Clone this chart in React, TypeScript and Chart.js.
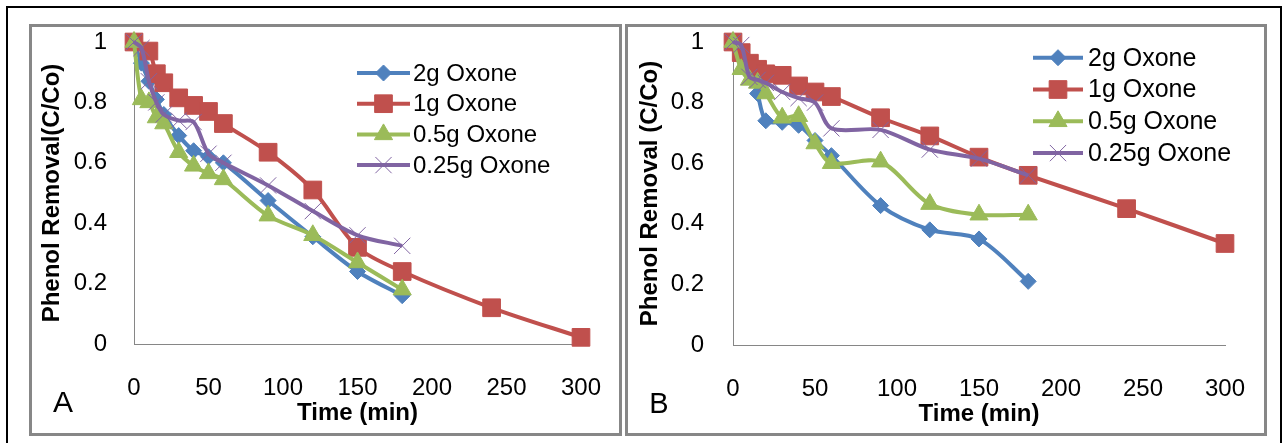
import React, { useEffect, useRef } from 'react';
import { Chart, registerables } from 'chart.js';
import { drawPoint } from 'chart.js/helpers';

Chart.register(...registerables);

// ---------- data ----------
const TIME_STD = [0, 5, 10, 15, 20, 30, 40, 50, 60, 90, 120, 150, 180];
const TIME_1G_A = [0, 10, 15, 20, 30, 40, 50, 60, 90, 120, 150, 180, 240, 300];
const TIME_1G_B = [0, 5, 10, 15, 20, 30, 40, 50, 60, 90, 120, 150, 180, 240, 300];

const A_2G = [1.0, 0.93, 0.87, 0.81, 0.76, 0.69, 0.64, 0.62, 0.6, 0.475, 0.355, 0.24, 0.16];
const A_1G = [1.0, 0.97, 0.895, 0.865, 0.815, 0.79, 0.77, 0.73, 0.635, 0.51, 0.32, 0.24, 0.12, 0.022];
const A_05G = [1.0, 0.81, 0.8, 0.75, 0.73, 0.635, 0.59, 0.565, 0.545, 0.425, 0.36, 0.27, 0.18];
const A_025G = [1.0, 0.98, 0.87, 0.8, 0.76, 0.74, 0.735, 0.63, 0.6, 0.525, 0.44, 0.36, 0.325];

const B_2G = [1.0, 0.97, 0.93, 0.83, 0.74, 0.735, 0.725, 0.675, 0.625, 0.46, 0.38, 0.35, 0.21];
const B_1G = [1.0, 0.965, 0.93, 0.91, 0.895, 0.89, 0.855, 0.835, 0.82, 0.75, 0.69, 0.62, 0.56, 0.45, 0.335];
const B_05G = [1.0, 0.91, 0.875, 0.865, 0.83, 0.75, 0.755, 0.665, 0.6, 0.605, 0.465, 0.43, 0.43];
const B_025G = [1.0, 0.99, 0.885, 0.875, 0.865, 0.835, 0.815, 0.8, 0.715, 0.71, 0.645, 0.615, 0.56];

const SERIES_LABELS = ['2g Oxone', '1g Oxone', '0.5g Oxone', '0.25g Oxone'];
const X_TICKS = [0, 50, 100, 150, 200, 250, 300];
const X_TICK_LABELS = ['0', '50', '100', '150', '200', '250', '300'];
const Y_TICKS = [0, 0.2, 0.4, 0.6, 0.8, 1];
const Y_TICK_LABELS = ['0', '0.2', '0.4', '0.6', '0.8', '1'];

// ---------- styles ----------
const FONT = '"Liberation Sans", Arial, sans-serif';
const COLORS = ['#4F81BD', '#C0504D', '#9BBB59', '#8064A2'];
const POINT_STYLES = ['rectRot', 'rect', 'triangle', 'crossRot'];
const POINT_RADII = [8, 12.5, 10.5, 11.5];
const POINT_BORDERS = [1, 1, 1, 1];

const pts = (times: number[], vals: number[]) => times.map((t, i) => ({ x: t, y: vals[i] }));

type PanelCfg = {
  letter: string;
  yTitle: string;
  series: { x: number; y: number }[][];
  left: number; top: number; w: number; h: number;
  yWidth: number; xHeight: number; padTop: number; padRight: number;
  yTickPad: number; xTickPad: number; yTitlePad: number; xTitlePad: number;
  legX1: number; legX2: number; legText: number; legY0: number; legStep: number; legFont: number;
  letterX: number; letterY: number; letterSize: number;
  frame: { left: number; top: number; width: number; height: number };
};

const PANELS: PanelCfg[] = [
  {
    letter: 'A',
    yTitle: 'Phenol Removal(C/Co)',
    series: [pts(TIME_STD, A_2G), pts(TIME_1G_A, A_1G), pts(TIME_STD, A_05G), pts(TIME_STD, A_025G)],
    left: 32, top: 27, w: 587, h: 406,
    yWidth: 102, xHeight: 89, padTop: 15, padRight: 38,
    yTickPad: 27, xTickPad: 30, yTitlePad: 6, xTitlePad: 5,
    legX1: 325, legX2: 378, legText: 381, legY0: 46, legStep: 30.7, legFont: 24,
    letterX: 63, letterY: 402, letterSize: 30,
    frame: { left: 29, top: 24, width: 593, height: 412 },
  },
  {
    letter: 'B',
    yTitle: 'Phenol Removal (C/Co)',
    series: [pts(TIME_STD, B_2G), pts(TIME_1G_B, B_1G), pts(TIME_STD, B_05G), pts(TIME_STD, B_025G)],
    left: 628, top: 27, w: 636, h: 406,
    yWidth: 105, xHeight: 88, padTop: 15, padRight: 39,
    yTickPad: 29, xTickPad: 30, yTitlePad: 8, xTitlePad: 4,
    legX1: 405, legX2: 455, legText: 460, legY0: 30.7, legStep: 31.8, legFont: 25,
    letterX: 659, letterY: 403, letterSize: 29,
    frame: { left: 625, top: 24, width: 642, height: 412 },
  },
];

function ChartPanel({ cfg }: { cfg: PanelCfg }) {
  const ref = useRef<HTMLCanvasElement>(null);

  useEffect(() => {
    const legendPlugin = {
      id: 'insideLegend',
      afterDraw(chart: any) {
        const ctx = chart.ctx;
        ctx.save();
        SERIES_LABELS.forEach((label, i) => {
          const y = cfg.legY0 + i * cfg.legStep;
          ctx.strokeStyle = COLORS[i];
          ctx.lineWidth = 4;
          ctx.beginPath();
          ctx.moveTo(cfg.legX1, y);
          ctx.lineTo(cfg.legX2, y);
          ctx.stroke();
          ctx.fillStyle = COLORS[i];
          ctx.strokeStyle = COLORS[i];
          ctx.lineWidth = POINT_BORDERS[i];
          drawPoint(ctx, {
            pointStyle: POINT_STYLES[i] as any,
            radius: POINT_RADII[i],
            rotation: 0,
            borderWidth: POINT_BORDERS[i],
          } as any, (cfg.legX1 + cfg.legX2) / 2, y);
          ctx.fillStyle = '#000';
          ctx.font = `${cfg.legFont}px ${FONT}`;
          ctx.textBaseline = 'middle';
          ctx.textAlign = 'left';
          ctx.fillText(label, cfg.legText, y + 1);
        });
        ctx.restore();
      },
    };

    const chart = new Chart(ref.current as HTMLCanvasElement, {
      type: 'line',
      data: {
        datasets: cfg.series.map((data, i) => ({
          label: SERIES_LABELS[i],
          data,
          borderColor: COLORS[i],
          backgroundColor: COLORS[i],
          borderWidth: 4,
          pointStyle: POINT_STYLES[i] as any,
          pointRadius: POINT_RADII[i],
          pointBorderWidth: POINT_BORDERS[i],
          pointBackgroundColor: COLORS[i],
          pointBorderColor: COLORS[i],
          tension: 0.3,
          fill: false,
          clip: false as any,
          order: 4 - i,
        })),
      },
      options: {
        responsive: false,
        animation: false,
        events: [],
        layout: { padding: { top: cfg.padTop, right: cfg.padRight, left: 0, bottom: 0 } },
        plugins: { legend: { display: false }, tooltip: { enabled: false } },
        scales: {
          x: {
            type: 'linear',
            min: 0,
            max: 300,
            afterBuildTicks: (scale: any) => {
              scale.ticks = X_TICKS.map((v) => ({ value: v }));
            },
            afterFit: (scale: any) => {
              scale.height = cfg.xHeight;
              scale.paddingLeft = 0;
              scale.paddingRight = 0;
              scale.paddingTop = 0;
              scale.paddingBottom = 0;
            },
            ticks: {
              padding: cfg.xTickPad,
              color: '#000',
              font: { family: FONT, size: 24 },
              maxRotation: 0,
              callback: (v: any) => X_TICK_LABELS[X_TICKS.indexOf(Math.round(Number(v)))] ?? '',
            },
            grid: { display: false, drawTicks: false },
            border: { display: true, color: '#868686', width: 1 },
            title: {
              display: true,
              text: 'Time (min)',
              color: '#000',
              font: { family: FONT, size: 24, weight: 'bold' },
              padding: { top: 0, bottom: cfg.xTitlePad },
            },
          },
          y: {
            type: 'linear',
            min: 0,
            max: 1,
            afterBuildTicks: (scale: any) => {
              scale.ticks = Y_TICKS.map((v) => ({ value: v }));
            },
            afterFit: (scale: any) => {
              scale.width = cfg.yWidth;
              scale.paddingLeft = 0;
              scale.paddingRight = 0;
              scale.paddingTop = 0;
              scale.paddingBottom = 0;
            },
            ticks: {
              padding: cfg.yTickPad,
              color: '#000',
              font: { family: FONT, size: 24 },
              callback: (v: any) => {
                const idx = Y_TICKS.findIndex((t) => Math.abs(t - Number(v)) < 1e-6);
                return idx >= 0 ? Y_TICK_LABELS[idx] : '';
              },
            },
            grid: { display: false, drawTicks: false },
            border: { display: true, color: '#868686', width: 1 },
            title: {
              display: true,
              text: cfg.yTitle,
              color: '#000',
              font: { family: FONT, size: 24, weight: 'bold' },
              padding: { top: cfg.yTitlePad, bottom: 0 },
            },
          },
        },
      },
      plugins: [legendPlugin],
    } as any);

    return () => chart.destroy();
  }, [cfg]);

  return (
    <>
      <div
        style={{
          position: 'absolute',
          left: cfg.frame.left,
          top: cfg.frame.top,
          width: cfg.frame.width,
          height: cfg.frame.height,
          border: '3px solid #878787',
          boxSizing: 'border-box',
        }}
      />
      <canvas
        ref={ref}
        width={cfg.w}
        height={cfg.h}
        style={{ position: 'absolute', left: cfg.left, top: cfg.top, width: cfg.w, height: cfg.h }}
      />
      <div
        style={{
          position: 'absolute',
          left: cfg.letterX - 20,
          top: cfg.letterY - 20,
          width: 40,
          height: 40,
          lineHeight: '40px',
          textAlign: 'center',
          fontFamily: FONT,
          fontSize: cfg.letterSize,
          color: '#000',
        }}
      >
        {cfg.letter}
      </div>
    </>
  );
}

export default function App() {
  return (
    <div
      style={{
        position: 'absolute',
        left: 0,
        top: 0,
        width: 1283,
        height: 443,
        overflow: 'hidden',
        background: '#fff',
      }}
    >
      <div
        style={{
          position: 'absolute',
          left: 6,
          top: 6,
          width: 1276,
          height: 440,
          border: '2px solid #000',
          boxSizing: 'border-box',
        }}
      />
      {PANELS.map((p) => (
        <ChartPanel key={p.letter} cfg={p} />
      ))}
    </div>
  );
}
